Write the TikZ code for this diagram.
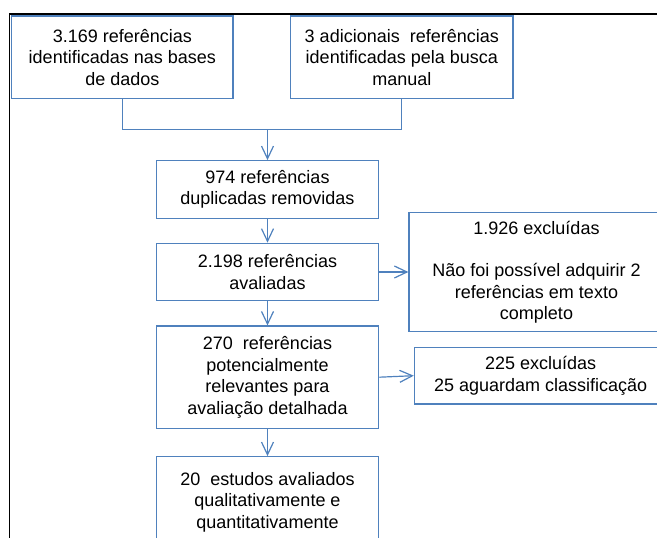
\documentclass[tikz,border=0pt]{standalone}
\usepackage{fontspec}
\setmainfont{Liberation Sans}
\usepackage{tikz}
\usetikzlibrary{arrows.meta}

\definecolor{boxblue}{RGB}{79,129,189}

\tikzset{
  box/.style={draw=boxblue, line width=0.9pt, align=center, inner sep=0pt,
    font=\fontsize{13.5}{16.1}\selectfont},
  link/.style={draw=boxblue, line width=0.9pt},
  arrow/.style={link, -{Straight Barb[length=9.5pt,width=9pt]}}
}

\begin{document}
\begin{tikzpicture}[x=0.75pt,y=0.75pt,yscale=-1,xscale=1]
        \path[use as bounding box, clip] (0,0) rectangle (657,538);

        %Frame
        \draw [line width=1.1pt] (9.3,560) -- (9.3,14) -- (680,14) ;

        % Text Node
        \node [box, minimum width=221.3*0.75pt, minimum height=82.7*0.75pt] (ident) at (122.3,57.3)
          {3.169 referências\\identificadas nas bases\\de dados};
        % Text Node
        \node [box, minimum width=222.3*0.75pt, minimum height=82.7*0.75pt] (manual) at (401.8,57.3)
          {3 adicionais\ \ referências\\identificadas pela busca\\manual};
        % Text Node
        \node [box, minimum width=222.4*0.75pt, minimum height=57.6*0.75pt] (dupl) at (267.5,189.5)
          {974 referências\\duplicadas removidas};
        % Text Node
        \node [box, minimum width=222.4*0.75pt, minimum height=57.4*0.75pt] (aval) at (267.5,272)
          {2.198 referências\\avaliadas};
        % Text Node
        \node [box, minimum width=222.4*0.75pt, minimum height=102.3*0.75pt] (pot) at (267.5,377.2)
          {270\ \ referências\\potencialmente\\relevantes para\\avaliação detalhada};
        % Text Node
        \node [box, minimum width=222.4*0.75pt, minimum height=90.6*0.75pt] (final) at (267.5,502)
          {20\ \ estudos avaliados\\qualitativamente e\\quantitativamente};
        % Text Node
        \node [box, minimum width=255*0.75pt, minimum height=119*0.75pt] (excl1) at (536.5,272.2)
          {1.926 excluídas\\[16.1pt]Não foi possível adquirir 2\\referências em texto\\completo};
        % Text Node
        \node [box, minimum width=252.7*0.75pt, minimum height=56.7*0.75pt] (excl2) at (540.7,375.7)
          {225 excluídas\\25 aguardam classificação};

        %Connectors
        \coordinate (join) at (267.5,129.5);
        \draw [link] (ident.south) |- (join) -| (manual.south) ;
        \draw [arrow] (join) -- (dupl.north) ;
        \draw [arrow] (dupl) -- (aval) ;
        \draw [arrow] (aval) -- (pot) ;
        \draw [arrow] (pot) -- (final) ;
        \draw [arrow] (aval.east) -- (aval.east -| excl1.west) ;
        \draw [arrow] (pot.east) -- (excl2.west) ;
\end{tikzpicture}
\end{document}
